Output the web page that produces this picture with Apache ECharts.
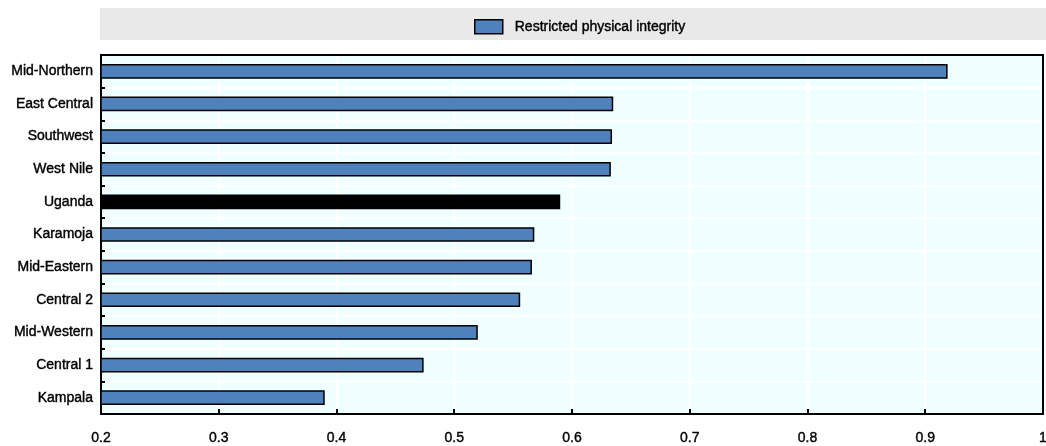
<!DOCTYPE html>
<html>
<head>
<meta charset="utf-8">
<script src="https://cdn.jsdelivr.net/npm/echarts@6/dist/echarts.min.js"></script>
<style>
html,body{margin:0;padding:0;background:#fff;}
#chart{width:1046px;height:446px;}
</style>
</head>
<body>
<div id="chart"></div>
<script>
const categories = ["Mid-Northern","East Central","Southwest","West Nile","Uganda","Karamoja","Mid-Eastern","Central 2","Mid-Western","Central 1","Kampala"];
const values = [0.919,0.635,0.634,0.633,0.590,0.568,0.566,0.556,0.520,0.474,0.390];
const seriesName = "Restricted physical integrity";
const highlight = "Uganda";

const chart = echarts.init(document.getElementById('chart'));
const font = "'Liberation Sans', Arial, sans-serif";
const blackLine = {show: true, lineStyle: {color: '#000', width: 2}};
const txt = {color: '#000', fontSize: 14, fontFamily: font, textBorderColor: '#000', textBorderWidth: 0.4};
chart.setOption({
  animation: false,
  textStyle: {fontFamily: font},
  graphic: [{
    type: 'rect', left: 100, top: 8, shape: {width: 946, height: 32},
    style: {fill: '#e9e9e9'}, z: -1
  }],
  legend: {
    top: 19, left: 474, icon: 'rect', padding: 0,
    itemWidth: 28, itemHeight: 14, itemGap: 12,
    itemStyle: {borderColor: '#000', borderWidth: 1.5},
    textStyle: Object.assign({padding: [0, 0, 0, 7]}, txt),
    data: [seriesName]
  },
  grid: {
    left: 101, right: 3, top: 55, bottom: 32,
    containLabel: false, outerBoundsMode: 'none',
    show: true, backgroundColor: '#f0ffff', borderWidth: 0
  },
  xAxis: [{
    type: 'value', min: 0.2, max: 1, interval: 0.1,
    axisLine: blackLine,
    axisTick: {show: true, inside: true, length: 5, lineStyle: {color: '#000', width: 2}},
    splitLine: {show: true, lineStyle: {color: '#fff', width: 2}},
    axisLabel: Object.assign({margin: 17, formatter: v => (Math.round(v * 10) / 10).toString()}, txt)
  }, {
    type: 'value', position: 'top', min: 0.2, max: 1, interval: 0.1,
    axisLine: blackLine, axisTick: {show: false}, axisLabel: {show: false}, splitLine: {show: false}
  }],
  yAxis: [{
    type: 'category', inverse: true, data: categories,
    axisLine: blackLine,
    axisTick: {show: true, inside: true, length: 4, lineStyle: {color: '#000', width: 2}},
    splitLine: {show: true, lineStyle: {color: '#fff', width: 2}},
    axisLabel: Object.assign({margin: 8, padding: [2, 0, 0, 0]}, txt)
  }, {
    type: 'category', position: 'right', inverse: true, data: categories,
    axisLine: blackLine, axisTick: {show: false}, axisLabel: {show: false}, splitLine: {show: false}
  }],
  series: [{
    name: seriesName, type: 'bar', barWidth: '45%',
    itemStyle: {color: '#4f81bd', borderColor: '#000', borderWidth: 1.5},
    data: categories.map((c, i) => c === highlight
      ? {value: values[i], itemStyle: {color: '#000'}}
      : values[i])
  }]
});
</script>
</body>
</html>
